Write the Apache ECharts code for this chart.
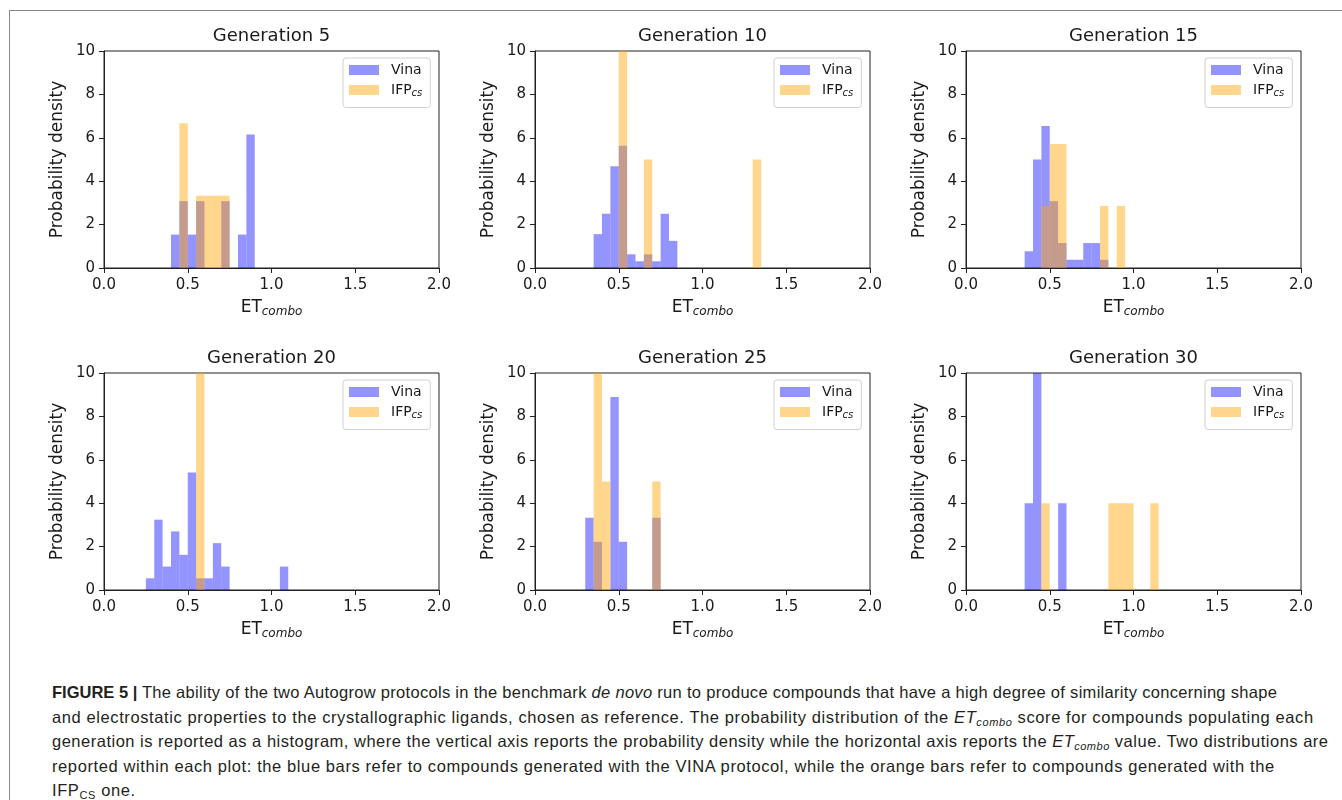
<!DOCTYPE html>
<html>
<head>
<meta charset="utf-8">
<script src="https://cdn.jsdelivr.net/npm/echarts@6/dist/echarts.min.js"></script>
<style>
  html, body { margin: 0; padding: 0; background: #fff; }
  .page { position: relative; width: 1342px; height: 800px; overflow: hidden; }
  .frame { position: absolute; left: 9px; top: 10px; right: -2px; bottom: -2px; border-left: 1px solid #8a8a8a; border-top: 1px solid #8a8a8a; }
  #chart { position: absolute; left: 0; top: 0; width: 1342px; height: 650px; }
  .caption { position: absolute; left: 52px; top: 680px; font-family: "Liberation Sans", Arial, sans-serif; font-size: 16.5px; line-height: 24.5px; color: #231f20; white-space: nowrap; }
  .caption div { letter-spacing: 0.6px; }
  .caption div.first { letter-spacing: 0.3px; }
  .caption div.third { letter-spacing: 0.5px; }
  .caption b { font-weight: 700; letter-spacing: 0; }
  .caption sub { font-size: 11px; vertical-align: -3px; line-height: 0; }
</style>
</head>
<body>
<div class="page">
  <div class="frame"></div>
  <div id="chart"></div>
  <div class="caption">
    <div class="first"><b>FIGURE 5 |</b> The ability of the two Autogrow protocols in the benchmark <i>de novo</i> run to produce compounds that have a high degree of similarity concerning shape</div>
    <div>and electrostatic properties to the crystallographic ligands, chosen as reference. The probability distribution of the <i>ET<sub>combo</sub></i> score for compounds populating each</div>
    <div class="third">generation is reported as a histogram, where the vertical axis reports the probability density while the horizontal axis reports the <i>ET<sub>combo</sub></i> value. Two distributions are</div>
    <div>reported within each plot: the blue bars refer to compounds generated with the VINA protocol, while the orange bars refer to compounds generated with the</div>
    <div>IFP<sub>CS</sub> one.</div>
  </div>
</div>
<script>
// histogram bins: [bin start, probability density], bin width 0.05
const binWidth = 0.05
const titles = ['Generation 5', 'Generation 10', 'Generation 15', 'Generation 20', 'Generation 25', 'Generation 30']

const gen5Vina = [[0.40, 1.54], [0.45, 3.08], [0.50, 1.54], [0.55, 3.08], [0.70, 3.08], [0.80, 1.54], [0.85, 6.15]]
const gen5Ifp = [[0.45, 6.67], [0.55, 3.33], [0.60, 3.33], [0.65, 3.33], [0.70, 3.33]]

const gen10Vina = [[0.35, 1.56], [0.40, 2.50], [0.45, 4.69], [0.50, 5.63], [0.55, 0.63], [0.60, 0.31], [0.65, 0.63], [0.70, 0.31], [0.75, 2.50], [0.80, 1.25]]
const gen10Ifp = [[0.50, 10.0], [0.65, 5.0], [1.30, 5.0]]

const gen15Vina = [[0.35, 0.77], [0.40, 5.00], [0.45, 6.54], [0.50, 3.08], [0.55, 1.15], [0.60, 0.38], [0.65, 0.38], [0.70, 1.15], [0.75, 1.15], [0.80, 0.38]]
const gen15Ifp = [[0.45, 2.86], [0.50, 5.71], [0.55, 5.71], [0.80, 2.86], [0.90, 2.86]]

const gen20Vina = [[0.25, 0.54], [0.30, 3.24], [0.35, 1.08], [0.40, 2.70], [0.45, 1.62], [0.50, 5.41], [0.55, 0.54], [0.60, 0.54], [0.65, 2.16], [0.70, 1.08], [1.05, 1.08]]
const gen20Ifp = [[0.55, 20.0]]

const gen25Vina = [[0.30, 3.33], [0.35, 2.22], [0.45, 8.89], [0.50, 2.22], [0.70, 3.33]]
const gen25Ifp = [[0.35, 10.0], [0.40, 5.0], [0.70, 5.0]]

const gen30Vina = [[0.35, 4.0], [0.40, 12.0], [0.55, 4.0]]
const gen30Ifp = [[0.45, 4.0], [0.85, 4.0], [0.90, 4.0], [0.95, 4.0], [1.10, 4.0]]

const vinaSets = [gen5Vina, gen10Vina, gen15Vina, gen20Vina, gen25Vina, gen30Vina]
const ifpSets = [gen5Ifp, gen10Ifp, gen15Ifp, gen20Ifp, gen25Ifp, gen30Ifp]

const xMin = 0, xMax = 2, xStep = 0.5
const yMin = 0, yMax = 10, yStep = 2

const vinaColor = 'rgba(0, 0, 255, 0.42)'
const ifpColor = 'rgba(255, 165, 0, 0.45)'
const font = 'DejaVu Sans'

const colLeft = [104, 535, 966]
const rowTop = [51, 373]
const plotW = 335
const plotH = 217

const chart = echarts.init(document.getElementById('chart'))

const renderBin = (params, api) => {
  const x0 = api.value(0)
  const h = Math.min(api.value(1), yMax)
  const p0 = api.coord([x0, 0])
  const p1 = api.coord([x0 + binWidth, h])
  return {
    type: 'rect',
    shape: { x: p0[0], y: p1[1], width: p1[0] - p0[0], height: p0[1] - p1[1] },
    style: { fill: api.visual('color') }
  }
}

const grids = [], xAxes = [], yAxes = [], series = [], legends = [], titleList = []

titles.forEach((t, i) => {
  const left = colLeft[i % 3]
  const top = rowTop[Math.floor(i / 3)]
  grids.push({ left, top, width: plotW, height: plotH, show: true, borderColor: '#222', borderWidth: 1, backgroundColor: 'transparent' })
  titleList.push({
    text: t, left: left + plotW / 2, top: top - 24, textAlign: 'center', padding: 0,
    textStyle: { fontFamily: font, fontSize: 18, fontWeight: 'normal', color: '#1a1a1a' }
  })
  xAxes.push({
    type: 'value', gridIndex: i, min: xMin, max: xMax, interval: xStep,
    name: 'ET{sub|combo}', nameLocation: 'middle', nameGap: 29,
    nameTextStyle: { fontFamily: font, fontSize: 17, color: '#1a1a1a', rich: { sub: { fontFamily: font, fontSize: 12, fontStyle: 'italic', padding: [9, 0, 0, 0], color: '#1a1a1a' } } },
    axisLine: { lineStyle: { color: '#222', width: 1 } },
    axisTick: { length: 5, lineStyle: { color: '#222' } },
    axisLabel: { fontFamily: font, fontSize: 15, color: '#1a1a1a', margin: 10, formatter: v => v.toFixed(1) },
    splitLine: { show: false }
  })
  yAxes.push({
    type: 'value', gridIndex: i, min: yMin, max: yMax, interval: yStep,
    name: 'Probability density', nameLocation: 'middle', nameGap: 38,
    nameTextStyle: { fontFamily: font, fontSize: 17, color: '#1a1a1a' },
    axisLine: { show: true, lineStyle: { color: '#222', width: 1 } },
    axisTick: { show: true, length: 5, lineStyle: { color: '#222' } },
    axisLabel: { fontFamily: font, fontSize: 15, color: '#1a1a1a', margin: 9 },
    splitLine: { show: false }
  })
  series.push({
    name: 'Vina', type: 'custom', xAxisIndex: i, yAxisIndex: i, clip: true,
    itemStyle: { color: vinaColor }, encode: { x: 0, y: 1 },
    renderItem: renderBin, data: vinaSets[i]
  })
  series.push({
    name: 'IFPcs', type: 'custom', xAxisIndex: i, yAxisIndex: i, clip: true,
    itemStyle: { color: ifpColor }, encode: { x: 0, y: 1 },
    renderItem: renderBin, data: ifpSets[i]
  })
  legends.push({
    data: [
      { name: 'Vina', icon: 'rect', itemStyle: { color: vinaColor } },
      { name: 'IFPcs', icon: 'rect', itemStyle: { color: ifpColor } }
    ],
    orient: 'vertical', left: left + plotW - 96, top: top + 7,
    itemWidth: 30, itemHeight: 10, itemGap: 6,
    padding: [5, 8, 9, 6],
    backgroundColor: 'rgba(255,255,255,0.8)', borderColor: '#d0d0d0', borderWidth: 1, borderRadius: 3,
    selectedMode: false,
    formatter: name => name === 'IFPcs' ? '{m|IFP}{s|cs}' : '{m|Vina}',
    textStyle: {
      padding: [0, 0, 0, 7],
      rich: {
        m: { fontFamily: font, fontSize: 14, color: '#1a1a1a', lineHeight: 16 },
        s: { fontFamily: font, fontSize: 10, fontStyle: 'italic', color: '#1a1a1a', padding: [7, 0, 0, 0] }
      }
    }
  })
})

chart.setOption({
  animation: false,
  title: titleList,
  legend: legends,
  grid: grids,
  xAxis: xAxes,
  yAxis: yAxes,
  series
})
</script>
</body>
</html>
